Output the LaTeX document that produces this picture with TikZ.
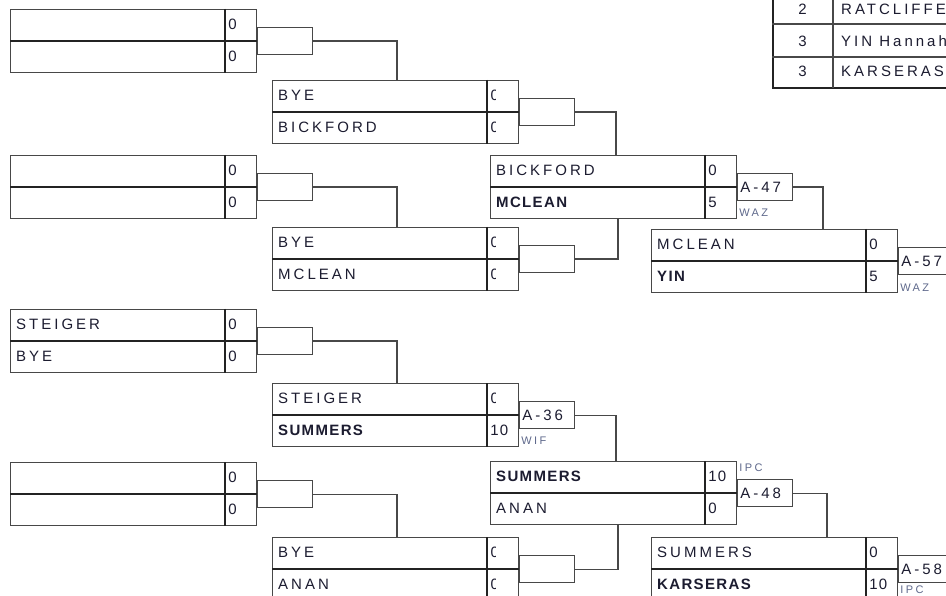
\documentclass[tikz,border=0pt]{standalone}
\usepackage{fontspec}
\setmainfont{Liberation Sans}
\newfontfamily\nmfont{Liberation Sans}[LetterSpace=20,BoldFeatures={LetterSpace=9}]
\newfontfamily\scorefont{Liberation Sans}[LetterSpace=8]
\newfontfamily\lblfont{Liberation Sans}[LetterSpace=22]
\usetikzlibrary{calc}
\definecolor{ln}{RGB}{72,72,72}
\definecolor{sepc}{RGB}{35,35,35}
\definecolor{txt}{RGB}{28,28,48}
\definecolor{lbl}{RGB}{95,105,140}
\tikzset{
  mbox/.style={draw=ln, line width=1.1pt, minimum width=246pt, minimum height=63pt, inner sep=0pt, anchor=north west},
  cbox/.style={draw=ln, line width=1.1pt, minimum width=55pt, minimum height=27pt, inner sep=0pt, anchor=west},
  sepl/.style={draw=sepc, line width=1.4pt},
  link/.style={draw=ln, line width=1.1pt},
  nametxt/.style={font=\nmfont\fontsize{15}{17}\selectfont, text=txt, inner sep=0pt, anchor=west},
  scoretxt/.style={font=\scorefont\fontsize{15}{17}\selectfont, text=txt, inner sep=0pt, anchor=west},
  lbltxt/.style={font=\lblfont\fontsize{11}{13}\selectfont, text=lbl, inner sep=0pt, anchor=west},
  sc/.style={node contents={#1}},
  clipzero/.style={node contents={}, minimum width=4.8pt, minimum height=15pt,
    path picture={\node[scoretxt] at (path picture bounding box.west) {0};}},
}
% #1 name, #2 top-left, #3 top name, #4 top score style, #5 bottom name, #6 bottom score style
\newcommand\matchbox[6]{%
  \node[mbox] (#1) at #2 {};
  \draw[sepl] (#1.west) -- (#1.east);
  \draw[sepl] ($(#1.north east)+(-32,0)$) -- ($(#1.south east)+(-32,0)$);
  \node[nametxt] (#1-n1) at ($(#1.north west)+(6,15.75)$) {#3};
  \node[nametxt] (#1-n2) at ($(#1.north west)+(6,47.25)$) {#5};
  \node (#1-s1) at ($(#1.north east)+(-29,15.75)$) [scoretxt,#4];
  \node (#1-s2) at ($(#1.north east)+(-29,47.25)$) [scoretxt,#6];
  \node[cbox] (#1-c) at (#1.east) {};
}
\begin{document}
\begin{tikzpicture}[x=1pt,y=-1pt]
\useasboundingbox (0,0) rectangle (946,596);
\clip (0,0) rectangle (946,596);
\fill[white] (0,0) rectangle (946,596);

% round 1
\matchbox{r1a}{(10,9)}{}{sc=0}{}{sc=0}
\matchbox{r1b}{(10,155)}{}{sc=0}{}{sc=0}
\matchbox{r1c}{(10,309)}{STEIGER}{sc=0}{BYE}{sc=0}
\matchbox{r1d}{(10,462)}{}{sc=0}{}{sc=0}
% round 2
\matchbox{r2a}{(272,80)}{BYE}{clipzero}{BICKFORD}{clipzero}
\matchbox{r2b}{(272,227)}{BYE}{clipzero}{MCLEAN}{clipzero}
\matchbox{r2c}{(272,383)}{STEIGER}{clipzero}{\bfseries SUMMERS}{sc=10}
\matchbox{r2d}{(272,537)}{BYE}{clipzero}{ANAN}{clipzero}
% round 3
\matchbox{r3a}{(490,155)}{BICKFORD}{sc=0}{\bfseries MCLEAN}{sc=5}
\matchbox{r3b}{(490,461)}{\bfseries SUMMERS}{sc=10}{ANAN}{sc=0}
% round 4
\matchbox{r4a}{(651,229)}{MCLEAN}{sc=0}{\bfseries YIN}{sc=5}
\matchbox{r4b}{(651,537)}{SUMMERS}{sc=0}{\bfseries KARSERAS}{sc=10}

% match numbers and referee codes
\node[nametxt] (m36) at ($(r2c-c.west)+(3,0)$) {A-36};
\node[lbltxt] (l36) at ($(r2c-c.south west)+(2,12)$) {WIF};
\node[nametxt] (m47) at ($(r3a-c.west)+(3,0)$) {A-47};
\node[lbltxt] (l47) at ($(r3a-c.south west)+(2,12)$) {WAZ};
\node[nametxt] (m48) at ($(r3b-c.west)+(3,0)$) {A-48};
\node[lbltxt] (l48) at ($(r3b-c.north west)+(2,-11)$) {IPC};
\node[nametxt] (m57) at ($(r4a-c.west)+(3,0)$) {A-57};
\node[lbltxt] (l57) at ($(r4a-c.south west)+(2,13)$) {WAZ};
\node[nametxt] (m58) at ($(r4b-c.west)+(3,0)$) {A-58};
\node[lbltxt] (l58) at ($(r4b-c.south west)+(2,6.5)$) {IPC};

% bracket links
\draw[link] (r1a-c.east) -| ($(r2a.north west)+(125,0)$);
\draw[link] (r1b-c.east) -| ($(r2b.north west)+(125,0)$);
\draw[link] (r1c-c.east) -| ($(r2c.north west)+(125,0)$);
\draw[link] (r1d-c.east) -| ($(r2d.north west)+(125,0)$);
\draw[link] (r2a-c.east) -| ($(r3a.north west)+(126,0)$);
\draw[link] (r2b-c.east) -| ($(r3a.south west)+(128,0)$);
\draw[link] (r2c-c.east) -| ($(r3b.north west)+(126,0)$);
\draw[link] (r2d-c.east) -| ($(r3b.south west)+(128,0)$);
\draw[link] (r3a-c.east) -| ($(r4a.north west)+(172,0)$);
\draw[link] (r3b-c.east) -| ($(r4b.north west)+(176,0)$);

% ranking table (top right)
\draw[draw=sepc, line width=1pt] (772,-12) rectangle (960,88);
\draw[draw=sepc, line width=2pt] (773,-12) -- (773,89);
\draw[draw=sepc, line width=2pt] (772,88) -- (960,88);
\draw[draw=ln, line width=1.1pt] (772,24) -- (960,24);
\draw[draw=ln, line width=1.1pt] (772,57) -- (960,57);
\draw[draw=ln, line width=1.1pt] (833,-12) -- (833,88);
\node[nametxt, anchor=center] (t1r) at (802.5,9) {2};
\node[nametxt] (t1n) at (841,9) {RATCLIFFE};
\node[nametxt, anchor=center] (t2r) at (802.5,41) {3};
\node[nametxt] (t2n) at (841,41) {YIN Hannah};
\node[nametxt, anchor=center] (t3r) at (802.5,71) {3};
\node[nametxt] (t3n) at (841,71) {KARSERAS};
\end{tikzpicture}
\end{document}
